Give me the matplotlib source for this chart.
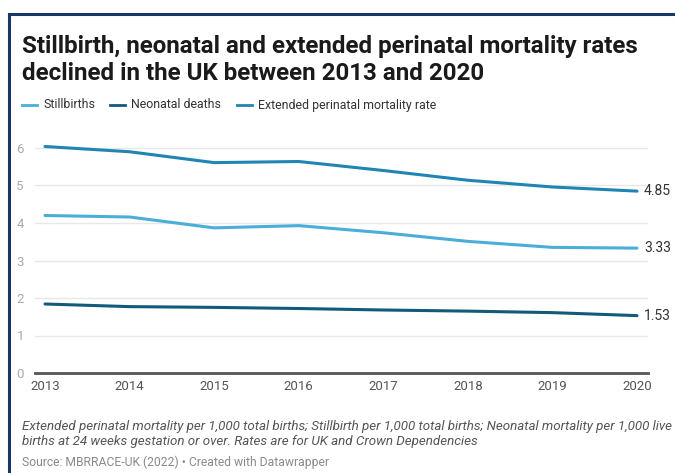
import matplotlib.pyplot as plt
from matplotlib.lines import Line2D

years = [2013, 2014, 2015, 2016, 2017, 2018, 2019, 2020]
stillbirths = [4.20, 4.16, 3.87, 3.93, 3.74, 3.51, 3.35, 3.33]
neonatal = [1.84, 1.77, 1.75, 1.72, 1.68, 1.65, 1.61, 1.53]
extended = [6.04, 5.90, 5.61, 5.64, 5.40, 5.14, 4.96, 4.85]
series_names = ['Stillbirths', 'Neonatal deaths', 'Extended perinatal mortality rate']
colors = ['#4aaed8', '#12597a', '#1f85b3']
yticks = [0, 1, 2, 3, 4, 5, 6]

plt.rcParams['font.family'] = ['Roboto', 'DejaVu Sans']

W, H = 675, 473
fig = plt.figure(figsize=(W / 100, H / 100), dpi=100)

# frame border (top and left, like the screenshot crop)
fig.add_artist(Line2D([9 / W, 9 / W], [0, 1 - 14 / H], color='#1b3766', lw=2.2))
fig.add_artist(Line2D([9 / W, 1], [1 - 14 / H, 1 - 14 / H], color='#1b3766', lw=2.2))

fig.text(22 / W, 1 - 46 / H, 'Stillbirth, neonatal and extended perinatal mortality rates',
         fontsize=17.4, fontweight='bold', color='#1a1a1a', va='center', ha='left')
fig.text(22 / W, 1 - 73 / H, 'declined in the UK between 2013 and 2020',
         fontsize=17.4, fontweight='bold', color='#1a1a1a', va='center', ha='left')

# legend
legend_x = [22, 110, 237]
for name, c, lx in zip(series_names, colors, legend_x):
    fig.add_artist(Line2D([lx / W, (lx + 15) / W], [1 - 105 / H] * 2, color=c, lw=2))
    fig.text((lx + 21) / W, 1 - 105 / H, name, fontsize=8.9, color='#333333', va='center', ha='left')

ax_left, ax_right = 35, 648
x0_px, x1_px = 45, 637
y0_px, y6_px = 373, 148
ppu = (y0_px - y6_px) / 6
ytop = 6.3
ax = fig.add_axes([ax_left / W, (H - y0_px) / H, (ax_right - ax_left) / W, (ytop * ppu) / H])
xpx = (x1_px - x0_px) / 7
ax.set_xlim(2013 - (x0_px - ax_left) / xpx, 2020 + (ax_right - x1_px) / xpx)
ax.set_ylim(0, ytop)

for vals, c in [(extended, colors[2]), (stillbirths, colors[0]), (neonatal, colors[1])]:
    ax.plot(years, vals, color=c, lw=2.2, solid_capstyle='round', zorder=3)
    ax.text(2020 + 7 / xpx, vals[-1], f'{vals[-1]:.2f}', fontsize=10, color='#333333',
            va='center', ha='left', clip_on=False)

ax.set_yticks(yticks)
ax.set_yticklabels([str(v) for v in yticks])
ax.set_xticks(years)
ax.grid(axis='y', color='#e8e8e8', lw=1)
ax.set_axisbelow(True)
for s in ['top', 'right', 'left']:
    ax.spines[s].set_visible(False)
ax.spines['bottom'].set_color('#555555')
ax.spines['bottom'].set_linewidth(2)
ax.tick_params(axis='y', length=0, pad=8, labelsize=9.5, labelcolor='#aaaaaa')
ax.tick_params(axis='x', length=0, pad=5, labelsize=9.5, labelcolor='#555555')

fig.text(22 / W, 1 - 426 / H,
         'Extended perinatal mortality per 1,000 total births; Stillbirth per 1,000 total births; Neonatal mortality per 1,000 live',
         fontsize=9.6, style='italic', color='#555555', va='center', ha='left')
fig.text(22 / W, 1 - 441 / H,
         'births at 24 weeks gestation or over. Rates are for UK and Crown Dependencies',
         fontsize=9.6, style='italic', color='#555555', va='center', ha='left')
fig.text(22 / W, 1 - 462 / H, 'Source: MBRRACE-UK (2022) \u2022 Created with Datawrapper',
         fontsize=8.7, color='#8a8a8a', va='center', ha='left')

fig.savefig('out.png', dpi=100)
